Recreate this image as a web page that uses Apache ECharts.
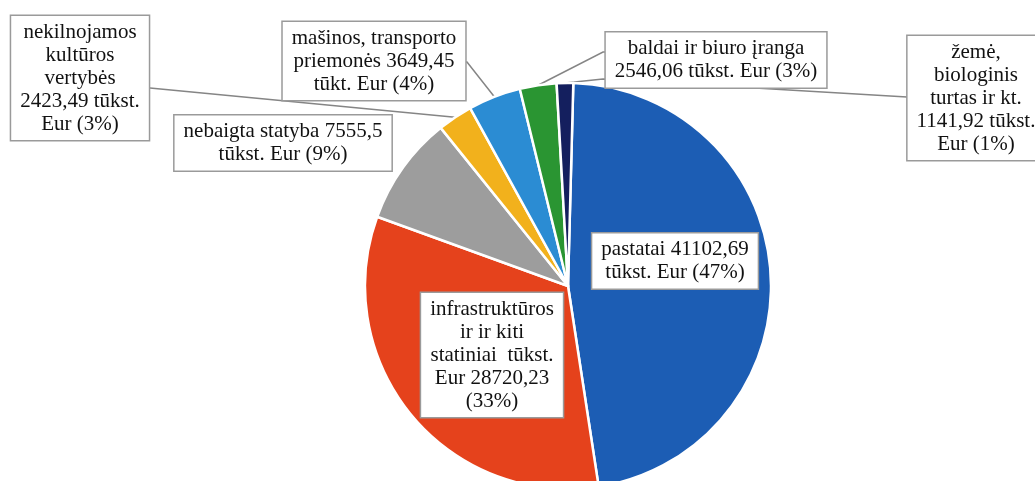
<!DOCTYPE html>
<html>
<head>
<meta charset="utf-8">
<script src="https://cdn.jsdelivr.net/npm/echarts@6/dist/echarts.min.js"></script>
<style>
  html, body { margin: 0; padding: 0; background: #fff; }
  #chart { width: 1035px; height: 481px; }
</style>
</head>
<body>
<div id="chart"></div>
<script>
// duomenys
const names = [
  'pastatai',
  'infrastruktūros ir ir kiti statiniai',
  'nebaigta statyba',
  'nekilnojamos kultūros vertybės',
  'mašinos, transporto priemonės',
  'baldai ir biuro įranga',
  'žemė, biologinis turtas ir kt.'
]
const values = [41102.69, 28720.23, 7555.5, 2423.49, 3649.45, 2546.06, 1141.92]
// etikečių tekstas: {v} - reikšmė, {p} - procentai
const labelTpl = [
  'pastatai {v}\ntūkst. Eur ({p}%)',
  'infrastruktūros\nir ir kiti\nstatiniai  tūkst.\nEur {v}\n({p}%)',
  'nebaigta statyba {v}\ntūkst. Eur ({p}%)',
  'nekilnojamos\nkultūros\nvertybės\n{v} tūkst.\nEur ({p}%)',
  'mašinos, transporto\npriemonės {v}\ntūkt. Eur ({p}%)',
  'baldai ir biuro įranga\n{v} tūkst. Eur ({p}%)',
  'žemė,\nbiologinis\nturtas ir kt.\n{v} tūkst.\nEur ({p}%)'
]
const colors = ['#1c5db4', '#e5421c', '#9d9d9d', '#f2b11c', '#2b8cd3', '#2a9532', '#141f5e']

// etikečių vietos (centras) ir linijų taškai
const labelPos = [[675, 261], [492, 355], [283, 143], [80, 78], [374, 61], [716, 60], [976, 98]]
const guide = [null, null, null, [[150, 88]], [[467, 62], [465, 62]], [[603, 52], [605, 52]], [[603, 79], [907, 97]]]

const chart = echarts.init(document.getElementById('chart'))

const fmt = v => String(v).replace('.', ',')

chart.setOption({
  backgroundColor: '#fff',
  animation: false,
  series: [{
    type: 'pie',
    center: [568, 286],
    radius: 203,
    startAngle: 88.5,
    clockwise: true,
    avoidLabelOverlap: false,
    percentPrecision: 0,
    itemStyle: {
      borderColor: '#fff',
      borderWidth: 2.5
    },
    label: {
      show: true,
      position: 'outside',
      fontFamily: 'Liberation Serif',
      fontSize: 21,
      lineHeight: 23,
      color: '#111',
      align: 'center',
      backgroundColor: '#fff',
      borderColor: '#9a9a9a',
      borderWidth: 1.5,
      padding: [5, 9, 4, 9],
      formatter: function (p) {
        return labelTpl[p.dataIndex].replace('{v}', fmt(p.value)).replace('{p}', p.percent)
      }
    },
    labelLine: {
      show: true,
      lineStyle: { color: '#858585', width: 1.5 }
    },
    labelLayout: function (params) {
      const i = params.dataIndex
      const res = {
        x: labelPos[i][0],
        y: labelPos[i][1],
        align: 'center',
        verticalAlign: 'middle'
      }
      if (guide[i] && params.labelLinePoints) {
        res.labelLinePoints = [params.labelLinePoints[0]].concat(guide[i])
      }
      return res
    },
    data: values.map((v, i) => ({
      name: names[i],
      value: v,
      itemStyle: { color: colors[i] },
      labelLine: { show: !!guide[i] }
    }))
  }]
})
</script>
</body>
</html>
